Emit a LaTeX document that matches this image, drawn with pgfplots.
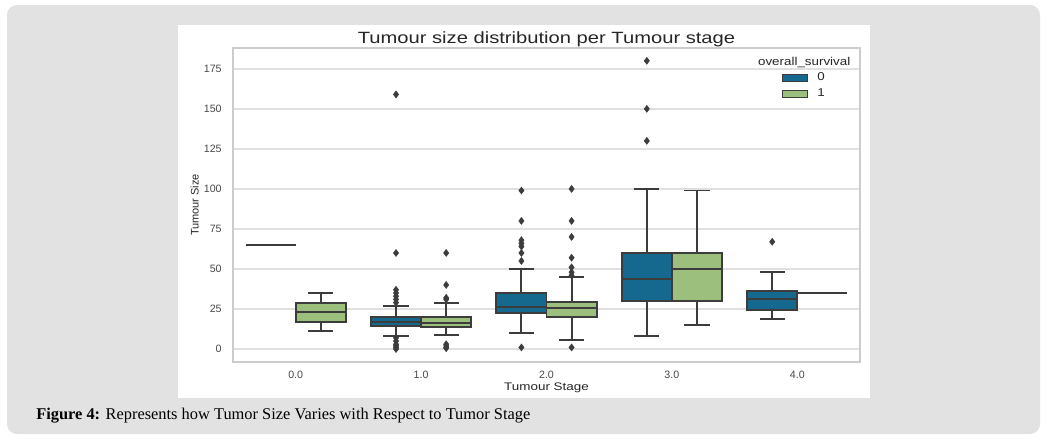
\documentclass[border=0pt]{standalone}
\usepackage{fontspec}
\setmainfont{Liberation Sans}
\newfontfamily\capfont{Liberation Serif}
\usepackage{graphicx}
\usepackage{pgfplots}
\pgfplotsset{compat=1.18}

\definecolor{cblue}{HTML}{15698F}
\definecolor{cgreen}{HTML}{9DBF7E}
\definecolor{edge}{HTML}{3C3C3C}
\definecolor{gridc}{HTML}{E0E0E0}
\definecolor{framec}{HTML}{CCCCCC}
\definecolor{panel}{HTML}{E2E2E2}
\definecolor{txt}{HTML}{262626}
\definecolor{ticktxt}{HTML}{4A4A4A}

\pgfplotsset{
  bx/.style={draw=edge, line width=1.4pt, forget plot},
  wsk/.style={draw=edge, line width=1.4pt, forget plot, unbounded coords=jump},
  outl/.style={only marks, forget plot, mark=diamond*, mark size=2.6pt,
    mark options={fill=edge, draw=edge, line width=0.4pt}},
  legimg/.style={legend image code/.code={
    \draw[##1, draw=edge, line width=0.8pt] (0pt,-2.6pt) rectangle (18.75pt,2.6pt);}}
}
\newcommand{\sx}[2]{\scalebox{#1}[1]{#2}}

\begin{document}
\begin{tikzpicture}
\begin{scope}[x=0.75pt, y=-0.75pt]
  \path[use as bounding box, fill=white] (0,0) rectangle (1048,443);
  \fill[panel, rounded corners=7.5pt] (7,5) rectangle (1040,434);
  \fill[white] (178,25) rectangle (870,398);
  \node[anchor=west, font=\capfont\fontsize{12.3pt}{14pt}\selectfont, text=black, inner sep=0pt]
    at (36,416) {\textbf{Figure 4:} Represents how Tumor Size Varies with Respect to Tumor Stage};
\end{scope}

\begin{axis}[
  at={(174.75pt,-271.5pt)}, anchor=south west,
  scale only axis, width=470.25pt, height=235.5pt,
  xmin=-0.5, xmax=4.5, ymin=-8.1, ymax=188,
  xtick={0,1,2,3,4}, xticklabels={0.0,1.0,2.0,3.0,4.0},
  ytick={0,25,50,75,100,125,150,175},
  major tick length=0pt,
  ymajorgrids, grid style={gridc, line width=1.1pt},
  axis line style={framec, line width=1pt},
  /pgf/number format/assume math mode=true,
  tick label style={font=\fontsize{8pt}{9.6pt}\selectfont, text=ticktxt},
  yticklabel style={xshift=-5pt},
  xticklabel style={yshift=-3pt},
  title={\sx{1.24}{Tumour size distribution per Tumour stage}},
  title style={font=\fontsize{12.2pt}{14pt}\selectfont, text=txt, yshift=-8.5pt},
  xlabel={\sx{1.22}{Tumour Stage}},
  ylabel={Tumour Size},
  xlabel style={font=\fontsize{8.25pt}{10pt}\selectfont, text=txt, yshift=3.5pt},
  ylabel style={font=\fontsize{8.25pt}{10pt}\selectfont, text=txt, yshift=-3pt},
  legend style={draw=none, fill=none, at={(rel axis cs:0.875,0.93)}, anchor=north west,
    inner sep=0pt, row sep=0.5pt, font=\fontsize{8.5pt}{10pt}\selectfont,
    nodes={text=txt}},
  legend cell align=left,
]
\addlegendimage{legimg, fill=cblue}
\addlegendentry{\hspace{5pt}\sx{1.18}{0}}
\addlegendimage{legimg, fill=cgreen}
\addlegendentry{\hspace{5pt}\sx{1.18}{1}}

% ---- stage 0.0
% survival 0: a single value
\addplot[wsk] coordinates {(-0.4,65) (0,65)};
% survival 1
\addplot[bx, fill=cgreen] coordinates {(0,17) (0.4,17) (0.4,29) (0,29)} -- cycle;
\addplot[wsk] coordinates {(0.2,29) (0.2,35) (0.2,nan) (0.1,35) (0.3,35) (0.2,nan)
  (0.2,17) (0.2,11) (0.2,nan) (0.1,11) (0.3,11) (0.2,nan) (0,23) (0.4,23)};

% ---- stage 1.0
\addplot[bx, fill=cblue] coordinates {(0.6,14.5) (1.0,14.5) (1.0,20) (0.6,20)} -- cycle;
\addplot[wsk] coordinates {(0.8,20) (0.8,27) (0.8,nan) (0.7,27) (0.9,27) (0.8,nan)
  (0.8,14.5) (0.8,8) (0.8,nan) (0.7,8) (0.9,8) (0.8,nan) (0.6,17) (1.0,17)};
\addplot[outl] coordinates {(0.8,159) (0.8,60) (0.8,37) (0.8,35) (0.8,33) (0.8,31) (0.8,29)
  (0.8,7) (0.8,5) (0.8,3) (0.8,2) (0.8,1) (0.8,0)};
\addplot[bx, fill=cgreen] coordinates {(1.0,14) (1.4,14) (1.4,20) (1.0,20)} -- cycle;
\addplot[wsk] coordinates {(1.2,20) (1.2,29) (1.2,nan) (1.1,29) (1.3,29) (1.2,nan)
  (1.2,14) (1.2,9) (1.2,nan) (1.1,9) (1.3,9) (1.2,nan) (1.0,16.5) (1.4,16.5)};
\addplot[outl] coordinates {(1.2,60) (1.2,40) (1.2,32) (1.2,31) (1.2,3) (1.2,2) (1.2,1) (1.2,0.5)};

% ---- stage 2.0
\addplot[bx, fill=cblue] coordinates {(1.6,22.5) (2.0,22.5) (2.0,35) (1.6,35)} -- cycle;
\addplot[wsk] coordinates {(1.8,35) (1.8,50) (1.8,nan) (1.7,50) (1.9,50) (1.8,nan)
  (1.8,22.5) (1.8,10) (1.8,nan) (1.7,10) (1.9,10) (1.8,nan) (1.6,26) (2.0,26)};
\addplot[outl] coordinates {(1.8,99) (1.8,80) (1.8,68) (1.8,66) (1.8,64) (1.8,60) (1.8,55) (1.8,1)};
\addplot[bx, fill=cgreen] coordinates {(2.0,20) (2.4,20) (2.4,29.5) (2.0,29.5)} -- cycle;
\addplot[wsk] coordinates {(2.2,29.5) (2.2,45) (2.2,nan) (2.1,45) (2.3,45) (2.2,nan)
  (2.2,20) (2.2,5.5) (2.2,nan) (2.1,5.5) (2.3,5.5) (2.2,nan) (2.0,25.5) (2.4,25.5)};
\addplot[outl] coordinates {(2.2,100) (2.2,80) (2.2,70) (2.2,57) (2.2,51) (2.2,48) (2.2,46) (2.2,1)};

% ---- stage 3.0
\addplot[bx, fill=cblue] coordinates {(2.6,30) (3.0,30) (3.0,60) (2.6,60)} -- cycle;
\addplot[wsk] coordinates {(2.8,60) (2.8,100) (2.8,nan) (2.7,100) (2.9,100) (2.8,nan)
  (2.8,30) (2.8,8) (2.8,nan) (2.7,8) (2.9,8) (2.8,nan) (2.6,44) (3.0,44)};
\addplot[outl] coordinates {(2.8,180) (2.8,150) (2.8,130)};
\addplot[bx, fill=cgreen] coordinates {(3.0,30) (3.4,30) (3.4,60) (3.0,60)} -- cycle;
\addplot[wsk] coordinates {(3.2,60) (3.2,99) (3.2,nan) (3.1,99) (3.3,99) (3.2,nan)
  (3.2,30) (3.2,15) (3.2,nan) (3.1,15) (3.3,15) (3.2,nan) (3.0,50) (3.4,50)};

% ---- stage 4.0
\addplot[bx, fill=cblue] coordinates {(3.6,24.5) (4.0,24.5) (4.0,36.5) (3.6,36.5)} -- cycle;
\addplot[wsk] coordinates {(3.8,36.5) (3.8,48) (3.8,nan) (3.7,48) (3.9,48) (3.8,nan)
  (3.8,24.5) (3.8,19) (3.8,nan) (3.7,19) (3.9,19) (3.8,nan) (3.6,31) (4.0,31)};
\addplot[outl] coordinates {(3.8,67)};
% survival 1: a single value
\addplot[wsk] coordinates {(4.0,35) (4.4,35)};

\node[font=\fontsize{8.5pt}{10pt}\selectfont, text=txt]
  at (rel axis cs:0.911,0.955) {\sx{1.18}{overall\_survival}};
\end{axis}
\end{tikzpicture}
\end{document}
